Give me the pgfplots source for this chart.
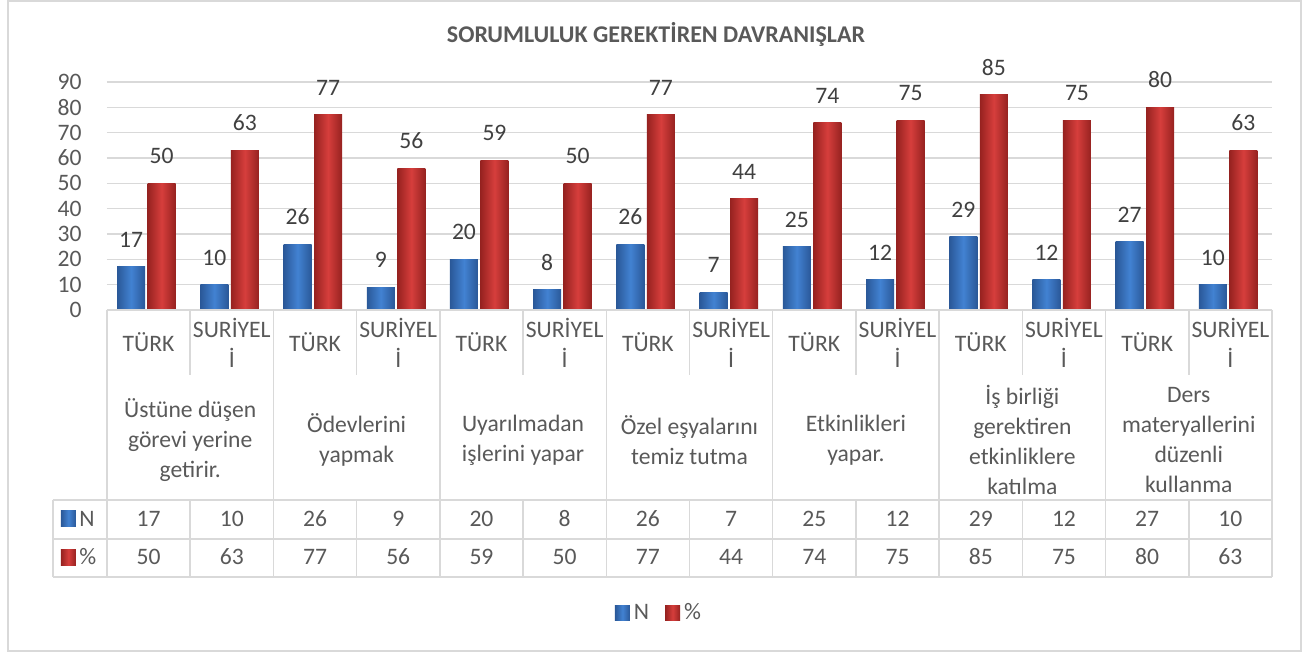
\documentclass[border=0pt]{standalone}
\usepackage{pgfplots}
\pgfplotsset{compat=1.18}
\usepackage{pgfplotstable}
\usepackage{fontspec}
\setmainfont{Carlito}

\definecolor{gridgray}{HTML}{D9D9D9}
\definecolor{txtgray}{HTML}{595959}
\definecolor{lblgray}{HTML}{404040}
\definecolor{bluedark}{HTML}{2A5898}
\definecolor{bluemid}{HTML}{4282D2}
\definecolor{reddark}{HTML}{962220}
\definecolor{redmid}{HTML}{D63E3C}
\newcommand\cf{\fontsize{11.8}{15}\selectfont}
\tikzset{
  nbar/.style={draw=none, left color=bluedark, right color=bluedark, middle color=bluemid},
  pbar/.style={draw=none, left color=reddark, right color=reddark, middle color=redmid},
}

% x = column, n = N, p = %
\pgfplotstableread{
x n p
0 17 50
1 10 63
2 26 77
3 9 56
4 20 59
5 8 50
6 26 77
7 7 44
8 25 74
9 12 75
10 29 85
11 12 75
12 27 80
13 10 63
}\datatable

\begin{document}
\begin{tikzpicture}
\begin{axis}[
  scale only axis, width=582.5pt, height=114pt,
  xmin=-0.5, xmax=13.5, ymin=0, ymax=90,
  xtick=\empty, ytick={0,10,...,90},
  ymajorgrids, grid style={gridgray, line width=0.75pt},
  axis line style={draw=none}, tick style={draw=none},
  /pgf/number format/assume math mode=true,
  tick label style={font=\cf, text=txtgray, inner sep=0pt},
  yticklabel shift=12.5pt,
  ybar, bar width=14pt,
  nodes near coords,
  nodes near coords style={font=\cf, text=lblgray, inner sep=0pt, anchor=south, yshift=9.5pt},
  legend image code/.code={\path[#1] (0pt,-3.75pt) rectangle (7.5pt,3.75pt);},
  legend style={at={(0.4747,-1.3289)}, anchor=center, draw=none, fill=none,
    font=\cf, text=txtgray, legend columns=2,
    /tikz/every even column/.append style={column sep=6pt}},
]
% one plot per bar so that each bar gets its own shading
\pgfplotsinvokeforeach{0,...,13}{
  \addplot[forget plot, nbar, bar shift=-8.75pt, restrict x to domain=#1:#1]
    table[x=x, y=n] {\datatable};
  \addplot[forget plot, pbar, bar shift=6.5pt, restrict x to domain=#1:#1]
    table[x=x, y=p] {\datatable};
}
\addlegendimage{nbar}
\addlegendentry{N}
\addlegendimage{pbar}
\addlegendentry{\%}
\end{axis}

% pixel coordinates of the 1311x652 reference
\begin{scope}[x=0.5pt, y=-0.5pt, shift={(-107,-310)}]
\path (0,0) rectangle (1311,652);
\draw[gridgray, line width=0.75pt] (8,1) rectangle (1301,651);
\node[font=\fontsize{12}{14}\selectfont\bfseries, text=txtgray] at (656,34) {SORUMLULUK GEREKTİREN DAVRANIŞLAR};

% data table grid
\begin{scope}[gridgray, line width=0.75pt]
\draw (107,310) -- (1272,310);
\draw (53,500) -- (1272,500);
\draw (53,539) -- (1272,539);
\draw (53,577) -- (1272,577);
\draw (53,500) -- (53,577);
\foreach \j in {0,...,14} {
  \draw ({107+83.214*\j},310) -- ({107+83.214*\j},375);
  \draw ({107+83.214*\j},500) -- ({107+83.214*\j},577);
}
\foreach \j in {0,2,...,14}
  \draw ({107+83.214*\j},310) -- ({107+83.214*\j},500);
\end{scope}

% sub-categories
\foreach \k in {0,2,...,12}
  \node[font=\cf, text=txtgray] at ({148.6+83.214*\k},342) {TÜRK};
\foreach \k in {1,3,...,13}
  \node[font=\cf, text=txtgray, align=center, inner sep=0pt] at ({148.6+83.214*\k},343) {SURİYEL\\İ};

% groups
\foreach \g/\t in {0/{Üstüne düşen\\görevi yerine\\getirir.},
                   1/{Ödevlerini\\yapmak},
                   2/{Uyarılmadan\\işlerini yapar},
                   3/{Özel eşyalarını\\temiz tutma},
                   4/{Etkinlikleri\\yapar.},
                   5/{İş birliği\\gerektiren\\etkinliklere\\katılma},
                   6/{Ders\\materyallerini\\düzenli\\kullanma}}
  \node[font=\cf, text=txtgray, align=center, inner sep=0pt] at ({190.2+166.43*\g},440) {\t};

% values
\foreach \k in {0,...,13} {
  \pgfplotstablegetelem{\k}{n}\of\datatable
  \node[font=\cf, text=txtgray] at ({148.6+83.214*\k},519) {\pgfplotsretval};
  \pgfplotstablegetelem{\k}{p}\of\datatable
  \node[font=\cf, text=txtgray] at ({148.6+83.214*\k},557) {\pgfplotsretval};
}

% row keys
\path[nbar] (61,511) rectangle (76,527);
\node[font=\cf, text=txtgray, anchor=west, inner sep=0pt] at (79,519) {N};
\path[pbar] (61,549) rectangle (76,565);
\node[font=\cf, text=txtgray, anchor=west, inner sep=0pt] at (79,557) {\%};
\end{scope}
\end{tikzpicture}
\end{document}
